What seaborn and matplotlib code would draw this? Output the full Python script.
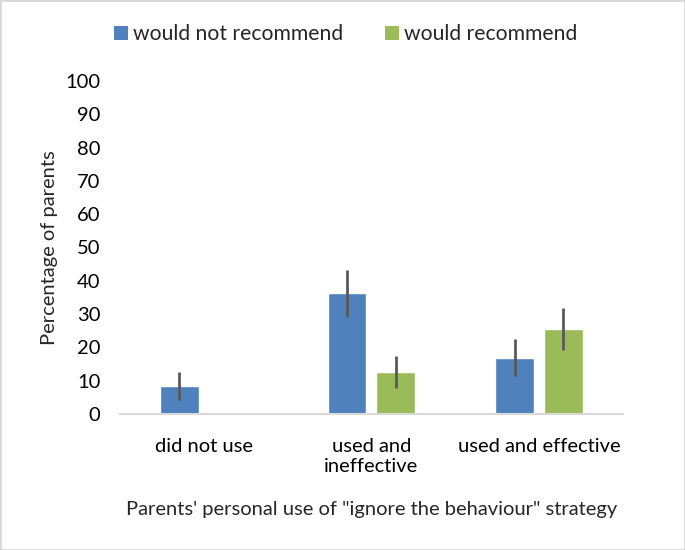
import matplotlib
matplotlib.use("Agg")
import matplotlib.pyplot as plt
import seaborn as sns
import pandas as pd
import numpy as np
from matplotlib.patches import Patch

categories = ["did not use", "used and\nineffective", "used and effective"]
series = ["would not recommend", "would recommend"]
not_recommend = [8.4, 36.2, 16.9]
recommend = [np.nan, 12.5, 25.4]
not_recommend_err_lo = [4.3, 29.0, 11.3]
not_recommend_err_hi = [12.5, 43.1, 22.4]
recommend_err_lo = [np.nan, 7.7, 19.1]
recommend_err_hi = [np.nan, 17.5, 31.8]

sns.set_theme(style="white")
plt.rcParams["font.family"] = ["Lato", "DejaVu Sans"]

df = pd.DataFrame({
    "category": categories * 2,
    "series": [series[0]] * 3 + [series[1]] * 3,
    "value": not_recommend + recommend,
})

fig = plt.figure(figsize=(6.85, 5.5), dpi=100)
ax = fig.add_axes([0.175, 0.247, 0.734, 0.606])
palette = {series[0]: "#4F81BD", series[1]: "#9BBB59"}
sns.barplot(data=df, x="category", y="value", hue="series", order=categories,
            hue_order=series, palette=palette, errorbar=None, width=0.58,
            gap=0.2, saturation=1, ax=ax, legend=False)

# error bars
lo = {series[0]: not_recommend_err_lo, series[1]: recommend_err_lo}
hi = {series[0]: not_recommend_err_hi, series[1]: recommend_err_hi}
for cont, s in zip(ax.containers, series):
    for p in cont.patches:
        xc = p.get_x() + p.get_width() / 2
        i = int(round(xc))
        if np.isnan(lo[s][i]):
            continue
        ax.plot([xc, xc], [lo[s][i], hi[s][i]], color="#595959", lw=2, solid_capstyle="butt")

fs = 14.5
ax.set_xlim(-0.5, 2.5)
ax.set_ylim(0, 100)
ax.set_yticks(range(0, 101, 10))
ax.tick_params(axis="both", length=0, labelsize=fs, colors="black")
ax.tick_params(axis="x", pad=17)
ax.tick_params(axis="y", pad=14)
for side in ["top", "right", "left"]:
    ax.spines[side].set_visible(False)
ax.spines["bottom"].set_color("#D9D9D9")
ax.spines["bottom"].set_linewidth(1.5)
ax.set_xlabel("Parents' personal use of \"ignore the behaviour\" strategy", fontsize=fs, labelpad=19)
ax.set_ylabel("Percentage of parents", fontsize=fs, labelpad=5)

handles = [Patch(facecolor=palette[s], edgecolor="none") for s in series]
fig.legend(handles, series, loc="upper center", bbox_to_anchor=(0.505, 0.99), ncol=2,
           frameon=False, fontsize=15.2, handlelength=0.65, handleheight=0.65,
           handletextpad=0.25, columnspacing=2.0)

fig.patches.append(plt.Rectangle((0, 0), 1, 1, transform=fig.transFigure,
                                 fill=False, edgecolor="#D9D9D9", lw=2))
fig.savefig("out.png", dpi=100)
